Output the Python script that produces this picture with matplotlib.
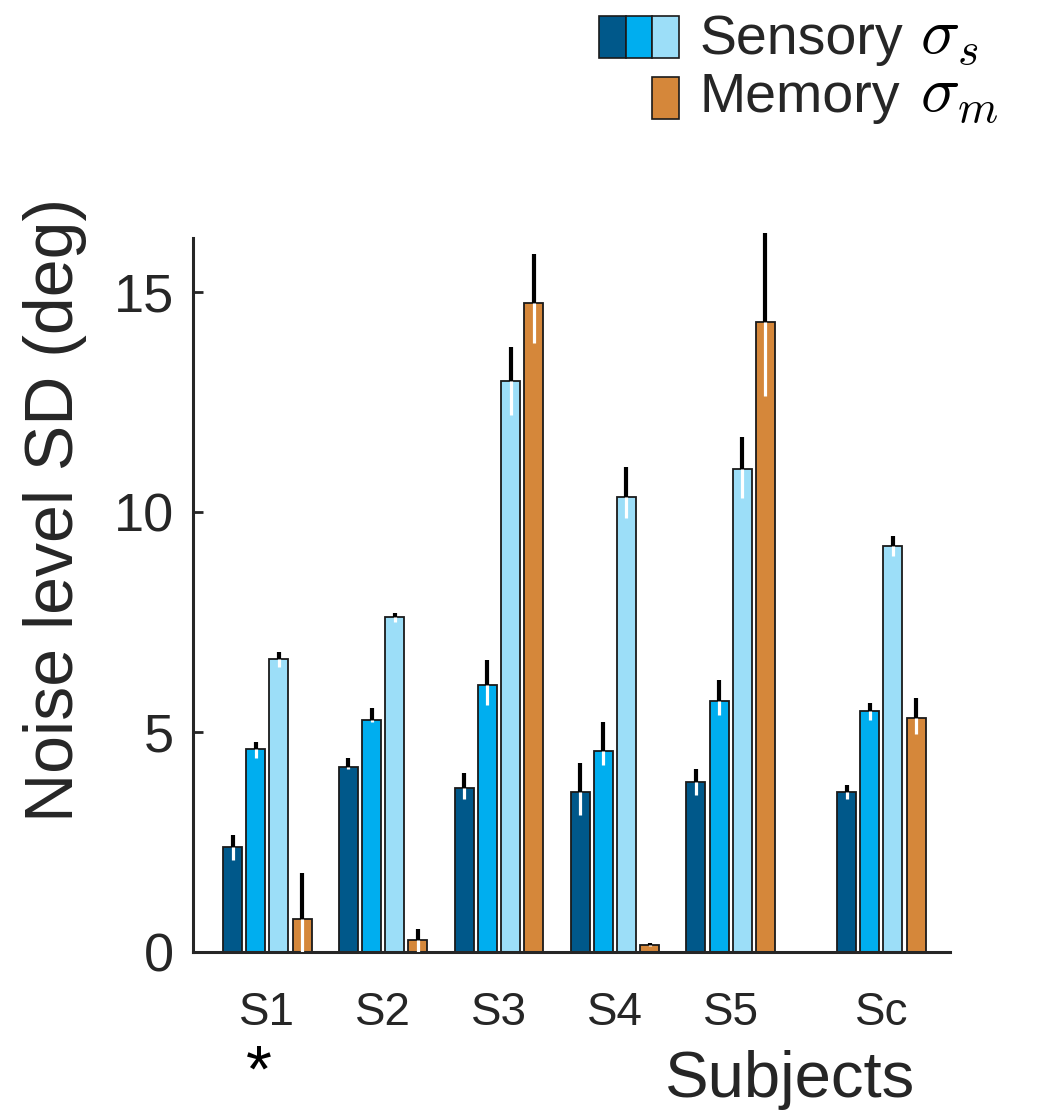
import numpy as np
import matplotlib
matplotlib.use("Agg")
import matplotlib.pyplot as plt
from matplotlib.patches import Rectangle

plt.rcParams["font.family"] = ["Liberation Sans", "DejaVu Sans"]
plt.rcParams["mathtext.fontset"] = "cm"

# subjects and group positions (Sc sits a bit apart)
subjects = ["S1", "S2", "S3", "S4", "S5", "Sc"]
positions = [1, 2, 3, 4, 5, 6.3]

# bar heights: sensory (3 levels) and memory noise
sens_low = [2.39, 4.20, 3.73, 3.63, 3.86, 3.63]
sens_mid = [4.61, 5.27, 6.07, 4.57, 5.70, 5.47]
sens_high = [6.66, 7.61, 12.98, 10.34, 10.97, 9.23]
memory = [0.75, 0.27, 14.75, 0.16, 14.31, 5.31]

# upper / lower error extents
up_low = [0.27, 0.21, 0.34, 0.67, 0.30, 0.16]
dn_low = [0.30, 0.04, 0.25, 0.52, 0.29, 0.16]
up_mid = [0.16, 0.28, 0.57, 0.66, 0.48, 0.18]
dn_mid = [0.21, 0.05, 0.46, 0.32, 0.32, 0.20]
up_high = [0.16, 0.09, 0.77, 0.68, 0.73, 0.23]
dn_high = [0.18, 0.11, 0.78, 0.48, 0.65, 0.23]
up_mem = [1.05, 0.25, 1.11, 0.05, 2.03, 0.46]
dn_mem = [0.75, 0.27, 0.91, 0.03, 1.68, 0.36]

colors = ["#00588A", "#00AEEF", "#9CDEF8", "#D5873A"]
text_col = "#262626"

fig = plt.figure(figsize=(10.39, 11.2), dpi=100)
ax = fig.add_axes([0.186, 0.15, 0.728, 0.6375])

x = np.array(positions)
width = 0.164
offsets = [-0.3, -0.1, 0.1, 0.3]
series = [
    (sens_low, up_low, dn_low),
    (sens_mid, up_mid, dn_mid),
    (sens_high, up_high, dn_high),
    (memory, up_mem, dn_mem),
]

for (vals, up, dn), off, col in zip(series, offsets, colors):
    vals = np.array(vals)
    xs = x + off
    ax.bar(xs, vals, width=width, color=col, edgecolor="#1a1a1a", linewidth=1.3, zorder=2)
    ax.vlines(xs, vals, vals + np.array(up), color="black", linewidth=3.0, zorder=3, clip_on=False)
    ax.vlines(xs, vals - np.array(dn), vals, color="white", linewidth=2.3, zorder=3)

ax.set_xlim(0.36, 6.89)
ax.set_ylim(0, 16.23)
ax.set_yticks([0, 5, 10, 15])
ax.set_xticks(positions)
ax.set_xticklabels(subjects)

for side in ["top", "right"]:
    ax.spines[side].set_visible(False)
for side in ["left", "bottom"]:
    ax.spines[side].set_linewidth(2.2)
    ax.spines[side].set_color(text_col)

ax.tick_params(axis="y", direction="in", length=7, width=2, colors=text_col,
               labelsize=39, pad=14)
ax.tick_params(axis="x", length=0, colors=text_col, labelsize=33, pad=28)

fig.text(0.053, 0.545, "Noise level SD (deg)", rotation=90, ha="center", va="center",
         fontsize=49, color=text_col)
fig.text(0.76, 0.036, "Subjects", ha="center", va="center", fontsize=47, color=text_col)
fig.text(0.249, 0.041, "*", ha="center", va="center", fontsize=48, color="black")

# legend drawn by hand: three sensory swatches and one memory swatch
sw_w = 26.5 / 1039
sw_h = 42 / 1120
for i, col in enumerate(colors[:3]):
    fig.patches.append(Rectangle((599 / 1039 + i * sw_w, 1 - 58 / 1120), sw_w, sw_h,
                                 transform=fig.transFigure, facecolor=col,
                                 edgecolor="#1a1a1a", linewidth=1.2))
fig.patches.append(Rectangle((652 / 1039, 1 - 119 / 1120), sw_w, sw_h,
                             transform=fig.transFigure, facecolor=colors[3],
                             edgecolor="#1a1a1a", linewidth=1.2))
fig.text(700 / 1039, 1 - 40 / 1120, "Sensory", ha="left", va="center",
         fontsize=40, color=text_col)
fig.text(700 / 1039, 1 - 98 / 1120, "Memory", ha="left", va="center",
         fontsize=40, color=text_col)
fig.text(920 / 1039, 1 - 54 / 1120, r"$\sigma_s$", ha="left", va="baseline",
         fontsize=47, color="black")
fig.text(920 / 1039, 1 - 112 / 1120, r"$\sigma_m$", ha="left", va="baseline",
         fontsize=47, color="black")

fig.savefig("out.png", dpi=100)
